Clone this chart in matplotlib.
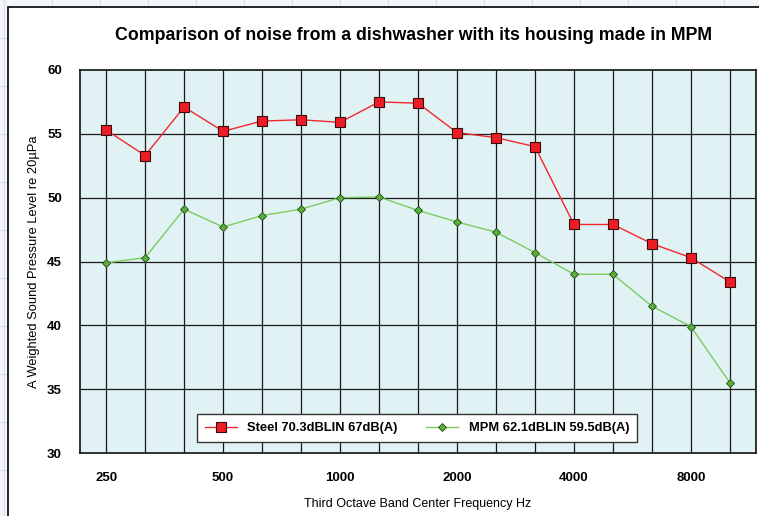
import matplotlib.pyplot as plt
from matplotlib.patches import Rectangle
from matplotlib.lines import Line2D

# third octave band centre frequencies
freqs = ['250', '315', '400', '500', '630', '800', '1000', '1250', '1600',
         '2000', '2500', '3150', '4000', '5000', '6300', '8000', '10000']
steel = [55.3, 53.3, 57.1, 55.2, 56.0, 56.1, 55.9, 57.5, 57.4,
         55.1, 54.7, 54.0, 47.9, 47.9, 46.4, 45.3, 43.4]
mpm = [44.9, 45.3, 49.1, 47.7, 48.6, 49.1, 50.0, 50.05, 49.0,
       48.1, 47.3, 45.7, 44.0, 44.0, 41.5, 39.9, 35.5]
shown_labels = ['250', '500', '1000', '2000', '4000', '8000']
steel_label = 'Steel 70.3dBLIN 67dB(A)'
mpm_label = 'MPM 62.1dBLIN 59.5dB(A)'

plt.rcParams['font.family'] = ['Liberation Sans', 'DejaVu Sans']

W, H = 759, 516
fig = plt.figure(figsize=(W / 100, H / 100), dpi=100)
fig.patch.set_facecolor('#F3F6F9')

# faint spreadsheet grid behind the chart frame
for gx in range(4, W, 48):
    fig.add_artist(Line2D([gx / W, gx / W], [0, 1], color='#D5DEE8', lw=0.8, zorder=-3))
for gy in range(38, H, 48):
    fig.add_artist(Line2D([0, 1], [1 - gy / H, 1 - gy / H], color='#D5DEE8', lw=0.8, zorder=-3))

# white chart frame
fig.add_artist(Rectangle((8 / W, -0.01), 1.0, 1 - 7 / H + 0.01,
                         transform=fig.transFigure, facecolor='white',
                         edgecolor='black', lw=1.2, zorder=-2))

ax = fig.add_axes([80 / W, 1 - 453 / H, (756 - 80) / W, (453 - 70) / H])
ax.set_facecolor('#E1F2F5')

x = list(range(len(freqs)))
ax.plot(x, steel, color='#F0282D', lw=1.0, marker='s', markersize=6.5,
        markerfacecolor='#EE1C24', markeredgecolor='#3A0A0A', markeredgewidth=0.8,
        label=steel_label, zorder=4)
ax.plot(x, mpm, color='#7CCB5E', lw=1.0, marker='D', markersize=4,
        markerfacecolor='#5AB03C', markeredgecolor='#1E4A12', markeredgewidth=0.6,
        label=mpm_label, zorder=4)

ax.set_xlim(-0.67, 16.67)
ax.set_ylim(30, 60)

# vertical grid at every band, labels only on octaves
ax.set_xticks([freqs.index(f) for f in shown_labels])
ax.set_xticklabels(shown_labels, fontweight='bold', fontsize=9.5)
ax.set_yticks([30, 35, 40, 45, 50, 55, 60])
ax.set_yticklabels(['30', '35', '40', '45', '50', '55', '60'],
                   fontweight='bold', fontsize=9.5)
ax.tick_params(axis='both', which='both', length=0)
ax.tick_params(axis='x', pad=14)
ax.tick_params(axis='y', pad=13)

for xi in x:
    ax.axvline(xi, color='#1A1A1A', lw=0.9, zorder=1)
for yv in [35, 40, 45, 50, 55]:
    ax.axhline(yv, color='#1A1A1A', lw=0.9, zorder=1)
for s in ax.spines.values():
    s.set_color('#111111')
    s.set_linewidth(1.2)

ax.set_xlabel('Third Octave Band Center Frequency Hz', fontsize=9, labelpad=10)
ax.set_ylabel('A Weighted Sound Pressure Level re 20\u00b5Pa', fontsize=9.3, labelpad=5)

fig.text(414 / W, 1 - 36 / H,
         'Comparison of noise from a dishwasher with its housing made in MPM',
         ha='center', va='center', fontsize=12.8, fontweight='bold')

leg = ax.legend(loc='lower left', bbox_to_anchor=((197 - 80) / 676, (453 - 442) / 383,
                                                  (637 - 197) / 676, 31 / 383),
                mode='expand', ncol=2, frameon=True, fancybox=False,
                prop={'weight': 'bold', 'size': 9.3}, handlelength=2.5,
                borderaxespad=0, borderpad=0.6)
leg.get_frame().set_edgecolor('#333333')
leg.get_frame().set_linewidth(1.0)
leg.get_frame().set_alpha(1)
leg.set_zorder(5)

fig.savefig('out.png', dpi=100, facecolor=fig.get_facecolor())
